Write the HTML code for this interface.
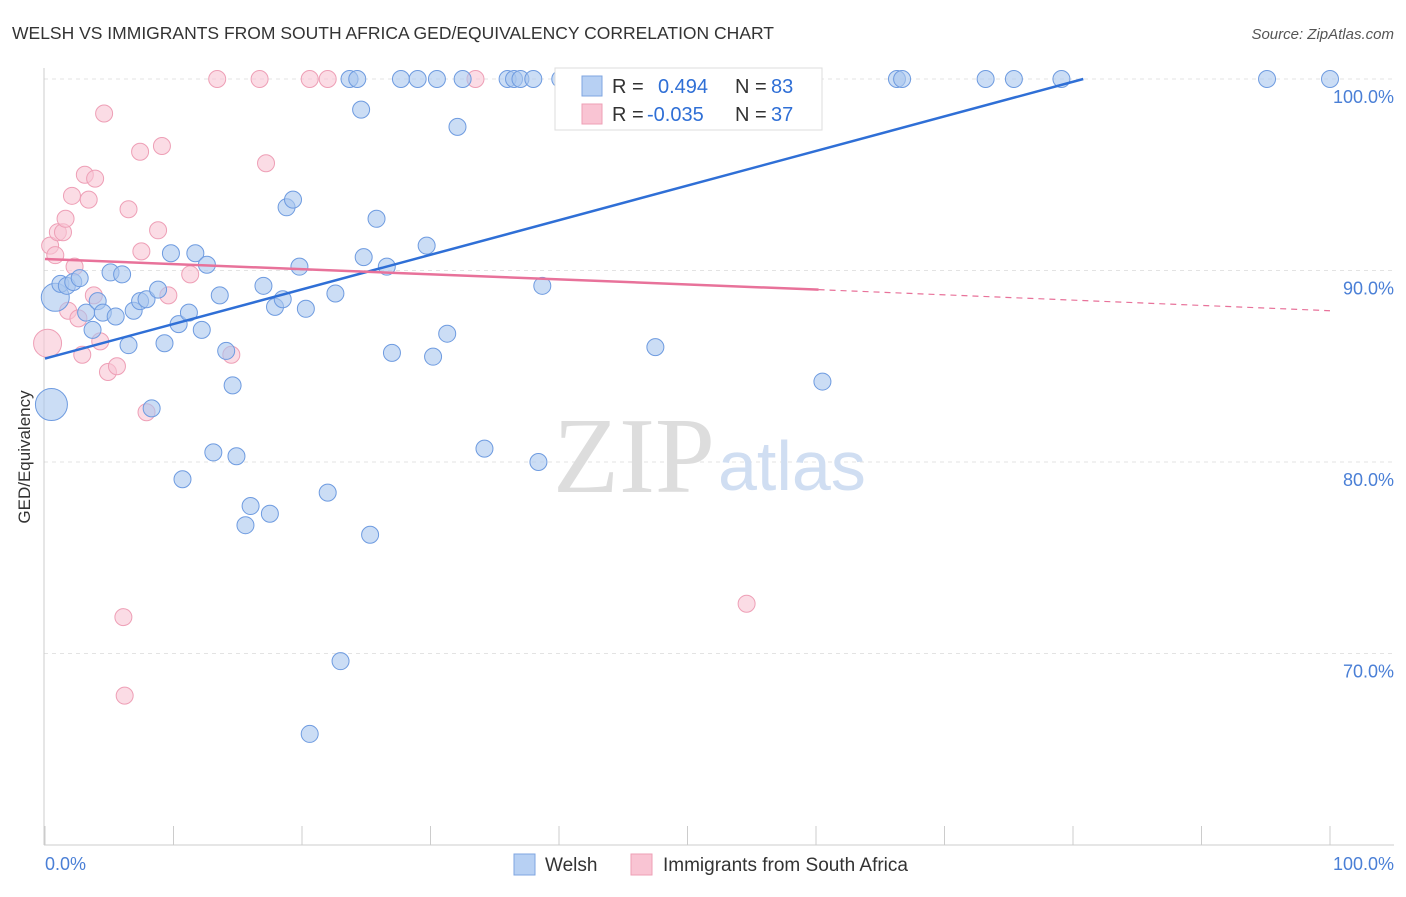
<!DOCTYPE html>
<html><head><meta charset="utf-8"><style>
body{margin:0;background:#fff;font-family:"Liberation Sans",sans-serif}
</style></head><body>
<svg width="1406" height="892" viewBox="0 0 1406 892" xmlns="http://www.w3.org/2000/svg">
<text x="12" y="39" font-size="17.5" fill="#333">WELSH VS IMMIGRANTS FROM SOUTH AFRICA GED/EQUIVALENCY CORRELATION CHART</text>
<text x="1394" y="39" font-size="15" fill="#555" font-style="italic" text-anchor="end">Source: ZipAtlas.com</text>
<g id="grid"></g>
<line x1="44" y1="68" x2="44" y2="845" stroke="#ccc"/>
<line x1="44" y1="845" x2="1394" y2="845" stroke="#ccc"/>
<text x="30" y="457" font-size="17" fill="#333" transform="rotate(-90 30 457)" text-anchor="middle">GED/Equivalency</text>
<text x="45" y="870" font-size="18" fill="#4a7fd6">0.0%</text>
<text x="1394" y="870" font-size="18" fill="#4a7fd6" text-anchor="end">100.0%</text>
<text x="715" y="492" font-size="108" fill="#ddd" text-anchor="end" font-family="Liberation Serif,serif">ZIP</text>
<text x="718" y="490" font-size="70" fill="#d0def2">atlas</text>
<g id="marks"></g>
<g font-size="20">
<rect x="555" y="68" width="267" height="62" fill="#fff" stroke="#ddd"/>
<rect x="582" y="76" width="20" height="20" fill="#b7d0f3" stroke="#7fa6e0"/>
<rect x="582" y="104" width="20" height="20" fill="#f9c4d3" stroke="#ee9fb6"/>
<text x="612" y="93" fill="#333">R =</text>
<text x="658" y="93" fill="#2f6fd6">0.494</text>
<text x="735" y="93" fill="#333">N =</text>
<text x="771" y="93" fill="#2f6fd6">83</text>
<text x="612" y="121" fill="#333">R =</text>
<text x="647" y="121" fill="#2f6fd6">-0.035</text>
<text x="735" y="121" fill="#333">N =</text>
<text x="771" y="121" fill="#2f6fd6">37</text>
</g>
<g>
<rect x="514" y="854" width="21" height="21" fill="#b7d0f3" stroke="#7fa6e0"/>
<text x="545" y="871" font-size="19" fill="#333">Welsh</text>
<rect x="631" y="854" width="21" height="21" fill="#f9c4d3" stroke="#ee9fb6"/>
<text x="663" y="871" font-size="19" fill="#333">Immigrants from South Africa</text>
</g>
</svg>
<script>
const yTicks=[100,90,80,70];
const xTicks=[0,10,20,30,40,50,60,70,80,90,100];
const welshX=[0.5,0.8,1.2,1.7,2.2,2.7,3.2,3.7,4.1,4.5,
5.1,5.5,6.0,6.5,6.9,7.4,7.9,8.3,8.8,9.3,
9.8,10.4,10.7,11.2,11.7,12.2,12.6,13.1,13.6,14.1,
14.6,14.9,15.6,16.0,17.0,17.5,17.9,18.5,18.8,19.3,
19.8,20.3,20.6,22.0,22.6,23.0,23.7,24.3,24.6,24.8,
25.3,25.8,26.6,27.0,27.7,29.0,29.7,30.2,30.5,31.3,
32.1,32.5,34.2,36.0,36.5,37.0,38.0,38.4,38.7,40.1,
41.2,45.7,47.5,54.2,60.5,66.3,66.7,73.2,75.4,79.1,
95.1,100];
const welshY=[83.0,88.6,89.3,89.2,89.4,89.6,87.8,86.9,88.4,87.8,
89.9,87.6,89.8,86.1,87.9,88.4,88.5,82.8,89.0,86.2,
90.9,87.2,79.1,87.8,90.9,86.9,90.3,80.5,88.7,85.8,
84.0,80.3,76.7,77.7,89.2,77.3,88.1,88.5,93.3,93.7,
90.2,88.0,65.8,78.4,88.8,69.6,100,100,98.4,90.7,
76.2,92.7,90.2,85.7,100,100,91.3,85.5,100,86.7,
97.5,100,80.7,100,100,100,100,80.0,89.2,100,
100,100,86.0,100,84.2,100,100,100,100,100,
100,100];
const saX=[0.2,0.4,0.8,1,1.4,1.6,1.8,2.1,2.3,2.6,2.9,3.1,3.4,3.8,3.9,4.3,4.6,4.9,5.6,6.1,6.2,6.5,7.5,7.4,7.9,8.8,9.1,9.6,11.3,13.4,14.5,16.7,17.2,20.6,22,33.5,54.6];
const saY=[86.2,91.3,90.8,92.0,92.0,92.7,87.9,93.9,90.2,87.5,85.6,95.0,93.7,88.7,94.8,86.3,98.2,84.7,85.0,71.9,67.8,93.2,91.0,96.2,82.6,92.1,96.5,88.7,89.8,100,85.6,100,95.6,100,100,100,72.6];
const welshR=[16,14];const saR=[14];
const X=v=>45+v*12.85, Y=v=>79+(100-v)*19.15;
const NS='http://www.w3.org/2000/svg';
const grid=document.getElementById('grid'), marks=document.getElementById('marks');
function mk(tag,attrs,parent){const e=document.createElementNS(NS,tag);for(const k in attrs)e.setAttribute(k,attrs[k]);parent.appendChild(e);return e;}
yTicks.forEach(t=>{
 const l=mk('line',{x1:44,x2:1394,y1:Y(t),y2:Y(t),stroke:'#e3e3e3','stroke-dasharray':'4,4'},grid);
 
 
 const tx=mk('text',{x:1394,y:Y(t)+24,'font-size':18,fill:'#4a7fd6','text-anchor':'end'},grid);tx.textContent=t.toFixed(1)+'%';
 
 
});
xTicks.forEach(t=>{
 const l=mk('line',{x1:X(t),x2:X(t),y1:826,y2:845,stroke:'#ccc'},grid);
 
 
});
function pts(xs,ys,fill,stroke,name,big){
 xs.forEach((x,i)=>{const c=mk('circle',{cx:X(x),cy:Y(ys[i]),r:big[i]||8.5,fill:fill,'fill-opacity':0.6,stroke:stroke,'stroke-width':1},marks);
 
 });
}
pts(saX,saY,'#f9c4d3','#ee9fb6','sa-point',saR);
pts(welshX,welshY,'#a9c6ef','#6e9be0','welsh-point',welshR);
let l1=mk('line',{x1:X(0),y1:Y(85.4),x2:X(80.8),y2:Y(100),stroke:'#2f6fd6','stroke-width':2.5},marks);


let l2=mk('line',{x1:X(0),y1:Y(90.6),x2:X(60.2),y2:Y(89.0),stroke:'#e8729a','stroke-width':2.5},marks);


let l3=mk('line',{x1:X(60.2),y1:Y(89.0),x2:X(100),y2:Y(87.9),stroke:'#e8729a','stroke-width':1.2,'stroke-dasharray':'6,5'},marks);


</script>
</body></html>
